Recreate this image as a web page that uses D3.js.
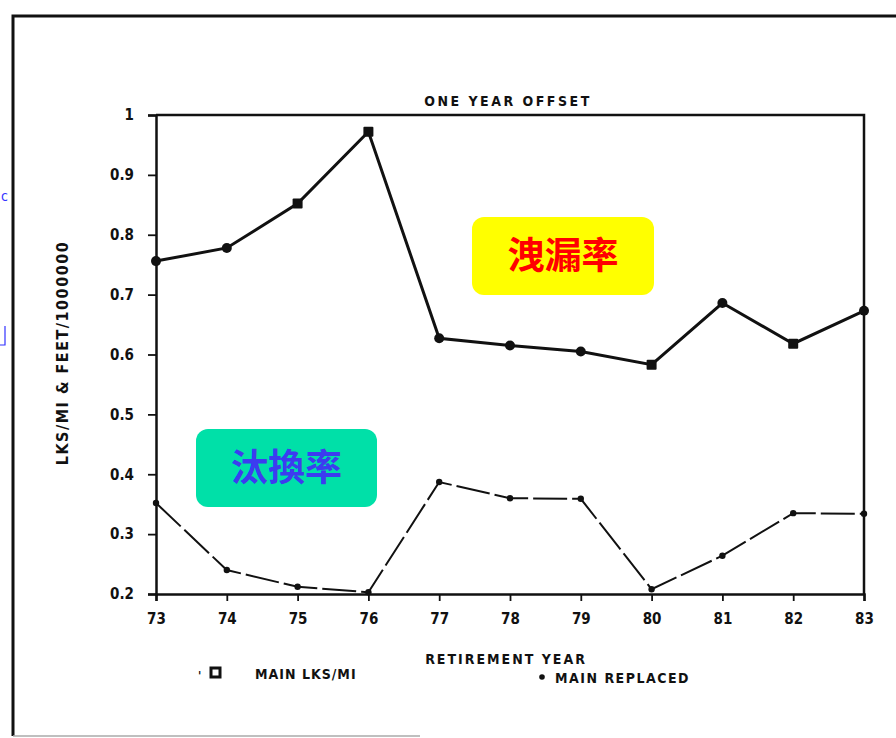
<!DOCTYPE html>
<html lang="en">
<head>
    <meta charset="UTF-8" />
    <title>One Year Offset</title>
    <script src="https://d3js.org/d3.v7.min.js"></script>
    <style>
        body { margin: 0; background: #fff; }
        text { font-family: "DejaVu Sans Condensed", "DejaVu Sans", sans-serif; font-weight: bold; fill: #111; }
    </style>
</head>

<body>
    <script>
        var w = 896;
        var h = 738;

        // data
        var years = [73, 74, 75, 76, 77, 78, 79, 80, 81, 82, 83];
        var mainLks = [0.756, 0.778, 0.852, 0.972, 0.627, 0.615, 0.605, 0.583, 0.686, 0.618, 0.673];
        var mainReplaced = [0.352, 0.240, 0.212, 0.203, 0.387, 0.360, 0.359, 0.208, 0.264, 0.335, 0.334];
        var yTicks = [0.2, 0.3, 0.4, 0.5, 0.6, 0.7, 0.8, 0.9, 1];
        var squareYears = [75, 76, 80, 82];

        var svg = d3.select("body")
            .append("svg")
            .attr("width", w)
            .attr("height", h);

        // outer page border
        svg.append("path")
            .attr("d", "M13,736 L13,16 L896,16")
            .attr("fill", "none")
            .attr("stroke", "#111")
            .attr("stroke-width", 3);
        svg.append("line")
            .attr("x1", 13).attr("x2", 420)
            .attr("y1", 736).attr("y2", 736)
            .attr("stroke", "#aaa")
            .attr("stroke-width", 1.5);

        // little blue marks on the left edge
        svg.append("text")
            .attr("x", 1).attr("y", 201)
            .style("fill", "#3333ff")
            .style("font-weight", "normal")
            .style("font-size", "14px")
            .text("c");
        svg.append("path")
            .attr("d", "M5,326 L5,345 L0,345")
            .attr("fill", "none")
            .attr("stroke", "#3333ff")
            .attr("stroke-width", 1.2);

        // scales
        var xScale = d3.scaleLinear()
            .domain([73, 83])
            .range([156, 864]);

        var yScale = d3.scaleLinear()
            .domain([0.2, 1])
            .range([594, 115]);

        // plot frame (top and right)
        svg.append("path")
            .attr("d", "M" + xScale(73) + "," + yScale(1) + " L" + xScale(83) + "," + yScale(1) + " L" + xScale(83) + "," + yScale(0.2))
            .attr("fill", "none")
            .attr("stroke", "#111")
            .attr("stroke-width", 2.5);

        // axes
        var xAxis = svg.append("g")
            .attr("transform", "translate(0," + yScale(0.2) + ")")
            .call(d3.axisBottom(xScale).tickValues(years).tickSize(7).tickPadding(12).tickFormat(d3.format("d")));

        var yAxis = svg.append("g")
            .attr("transform", "translate(" + xScale(73) + ",0)")
            .call(d3.axisLeft(yScale).tickValues(yTicks).tickSize(8).tickPadding(14)
                .tickFormat(function(d) { return d === 1 ? "1" : d3.format(".1f")(d); }));

        [xAxis, yAxis].forEach(function(g) {
            g.select(".domain").attr("stroke", "#111").attr("stroke-width", 2.5);
            g.selectAll(".tick line").attr("stroke", "#111").attr("stroke-width", 1.8);
            g.selectAll(".tick text")
                .style("font-size", "15px")
                .style("font-family", "'DejaVu Sans Condensed', 'DejaVu Sans', sans-serif")
                .style("font-weight", "bold")
                .attr("fill", "#111");
        });

        // titles
        svg.append("text")
            .attr("x", 508).attr("y", 106)
            .attr("text-anchor", "middle")
            .style("font-size", "14px")
            .style("letter-spacing", "2.5px")
            .text("ONE YEAR OFFSET");

        svg.append("text")
            .attr("x", 506).attr("y", 664)
            .attr("text-anchor", "middle")
            .style("font-size", "14px")
            .style("letter-spacing", "2px")
            .text("RETIREMENT YEAR");

        svg.append("text")
            .attr("transform", "translate(68,353) rotate(-90)")
            .attr("text-anchor", "middle")
            .style("font-size", "16px")
            .style("letter-spacing", "1.5px")
            .text("LKS/MI & FEET/1000000");

        // legend
        svg.append("text").attr("x", 198).attr("y", 680).style("font-size", "12px").text("'");
        svg.append("rect")
            .attr("x", 211).attr("y", 668)
            .attr("width", 9).attr("height", 9)
            .attr("fill", "none")
            .attr("stroke", "#111")
            .attr("stroke-width", 3);
        svg.append("text")
            .attr("x", 255).attr("y", 679)
            .style("font-size", "14px")
            .style("letter-spacing", "1px")
            .text("MAIN LKS/MI");
        svg.append("circle")
            .attr("cx", 542).attr("cy", 677)
            .attr("r", 2.8)
            .attr("fill", "#111");
        svg.append("text")
            .attr("x", 555).attr("y", 683)
            .style("font-size", "14px")
            .style("letter-spacing", "1.5px")
            .text("MAIN REPLACED");

        // lines
        var line = d3.line()
            .x(function(d) { return xScale(d[0]); })
            .y(function(d) { return yScale(d[1]); });

        var lksData = d3.zip(years, mainLks);
        var repData = d3.zip(years, mainReplaced);

        svg.append("path")
            .datum(repData)
            .attr("d", line)
            .attr("fill", "none")
            .attr("stroke", "#111")
            .attr("stroke-width", 2)
            .attr("stroke-dasharray", "34 5");

        svg.selectAll(".rep")
            .data(repData)
            .enter()
            .append("circle")
            .attr("class", "rep")
            .attr("cx", function(d) { return xScale(d[0]); })
            .attr("cy", function(d) { return yScale(d[1]); })
            .attr("r", 3.2)
            .attr("fill", "#111");

        svg.append("path")
            .datum(lksData)
            .attr("d", line)
            .attr("fill", "none")
            .attr("stroke", "#111")
            .attr("stroke-width", 3);

        svg.selectAll(".lks")
            .data(lksData)
            .enter()
            .append("rect")
            .attr("class", "lks")
            .attr("x", function(d) { return xScale(d[0]) - 5; })
            .attr("y", function(d) { return yScale(d[1]) - 5; })
            .attr("width", 10)
            .attr("height", 10)
            .attr("rx", function(d) { return squareYears.indexOf(d[0]) >= 0 ? 1 : 5; })
            .attr("fill", "#111");

        // coloured callouts
        function callout(x, y, bw, bh, fill, color, label) {
            svg.append("rect")
                .attr("x", x).attr("y", y)
                .attr("width", bw).attr("height", bh)
                .attr("rx", 12)
                .attr("fill", fill);
            svg.append("text")
                .attr("x", x + bw / 2).attr("y", y + bh / 2 + 13)
                .attr("text-anchor", "middle")
                .style("font-family", "'Noto Sans CJK TC', 'Noto Sans CJK SC', sans-serif")
                .style("font-weight", "bold")
                .style("font-size", "37px")
                .style("fill", color)
                .text(label);
        }

        callout(472, 217, 182, 78, "#ffff00", "#ff0000", "洩漏率");
        callout(196, 429, 181, 78, "#00e0a8", "#3c3cf0", "汰換率");
    </script>
</body>
</html>
